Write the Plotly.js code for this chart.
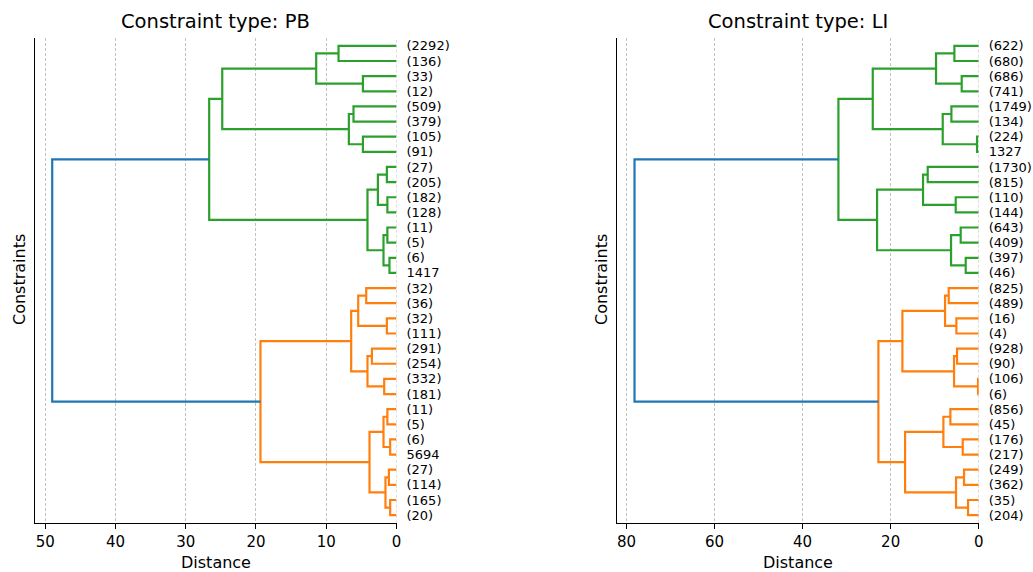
<!DOCTYPE html>
<html>
<head>
<meta charset="utf-8">
<script src="https://cdn.plot.ly/plotly-3.0.1.min.js"></script>
<style>html,body{margin:0;padding:0;background:#fff;}#chart{width:1033px;height:572px;}</style>
</head>
<body>
<div id="chart"></div>
<script>
// ---------- DATA ----------
// Leaf labels, top to bottom
const pbLabels = ["(2292)","(136)","(33)","(12)","(509)","(379)","(105)","(91)",
  "(27)","(205)","(182)","(128)","(11)","(5)","(6)","1417",
  "(32)","(36)","(32)","(111)","(291)","(254)","(332)","(181)",
  "(11)","(5)","(6)","5694","(27)","(114)","(165)","(20)"];
// Merges: node ids 0..31 are leaves, merge k creates node 32+k
const pbLeft  = [0, 2, 32, 4, 6, 35, 34, 8, 10, 39, 12, 14, 42, 41, 38, 16, 18, 47, 20, 22, 50, 49, 24, 26, 54, 28, 30, 57, 56, 53, 46];
const pbRight = [1, 3, 33, 5, 7, 36, 37, 9, 11, 40, 13, 15, 43, 44, 45, 17, 19, 48, 21, 23, 51, 52, 25, 27, 55, 29, 31, 58, 59, 60, 61];
const pbDist  = [8.25, 4.78, 11.43, 6.12, 4.78, 6.78, 24.8, 1.37, 1.3, 2.65, 1.3, 1.0, 1.85, 4.13, 26.66,
                 4.31, 1.37, 5.45, 3.5, 1.75, 4.13, 6.45, 1.3, 0.9, 1.85, 1.08, 0.9, 1.57, 3.84, 19.36, 49.0];

const liLabels = ["(622)","(680)","(686)","(741)","(1749)","(134)","(224)","1327",
  "(1730)","(815)","(110)","(144)","(643)","(409)","(397)","(46)",
  "(825)","(489)","(16)","(4)","(928)","(90)","(106)","(6)",
  "(856)","(45)","(176)","(217)","(249)","(362)","(35)","(204)"];
const liLeft  = [0, 2, 32, 4, 6, 35, 34, 8, 10, 39, 12, 14, 42, 41, 38, 16, 18, 47, 20, 22, 50, 49, 24, 26, 54, 28, 30, 57, 56, 53, 46];
const liRight = [1, 3, 33, 5, 7, 36, 37, 9, 11, 40, 13, 15, 43, 44, 45, 17, 19, 48, 21, 23, 51, 52, 25, 27, 55, 29, 31, 58, 59, 60, 61];
const liDist  = [5.52, 3.86, 9.69, 6.2, 0.38, 8.17, 24.06, 11.58, 5.22, 12.64, 4.09, 2.95, 6.28, 23.08, 31.86,
                 6.81, 5.07, 7.64, 4.92, 0.15, 5.6, 17.33, 6.43, 3.63, 8.02, 3.33, 2.42, 5.15, 16.72, 22.78, 78.17];

const titles = ["Constraint type: PB", "Constraint type: LI"];
const xTitle = "Distance";
const yTitle = "Constraints";

// ---------- BUILD ----------
const ABOVE = "#1f77b4";
const PALETTE = ["#ff7f0e", "#2ca02c", "#d62728", "#9467bd"];

function build(labels, A, B, D, xa, ya) {
  const n = labels.length;
  const pos = {}, h = {}, parent = {};
  labels.forEach((l, i) => { pos[i] = 10 * (n - 1 - i) + 5; h[i] = 0; });
  A.forEach((a, k) => {
    const id = n + k;
    pos[id] = (pos[a] + pos[B[k]]) / 2;
    h[id] = D[k];
    parent[a] = id; parent[B[k]] = id;
  });
  const thr = 0.7 * Math.max(...D);
  const roots = [];
  A.forEach((a, k) => {
    const id = n + k;
    if (D[k] <= thr && (parent[id] === undefined || h[parent[id]] > thr)) roots.push(id);
  });
  roots.sort((p, q) => pos[p] - pos[q]);
  const rootColor = {};
  roots.forEach((r, i) => rootColor[r] = PALETTE[i % PALETTE.length]);
  function colorOf(id) {
    if (h[id] > thr) return ABOVE;
    let c = id;
    while (rootColor[c] === undefined) c = parent[c];
    return rootColor[c];
  }
  const groups = {};
  A.forEach((a, k) => {
    const id = n + k, b = B[k];
    const col = colorOf(id);
    if (!groups[col]) groups[col] = {x: [], y: []};
    const g = groups[col];
    g.x.push(h[a], h[id], h[id], h[b], null);
    g.y.push(pos[a], pos[a], pos[b], pos[b], null);
  });
  const traces = Object.keys(groups).map(col => ({
    type: "scatter", mode: "lines", x: groups[col].x, y: groups[col].y,
    xaxis: xa, yaxis: ya, line: {color: col, width: 2.2}, hoverinfo: "skip", showlegend: false,
    connectgaps: false
  }));
  const tickvals = labels.map((l, i) => pos[i]);
  return {traces, tickvals, max: Math.max(...D), n};
}

const p1 = build(pbLabels, pbLeft, pbRight, pbDist, "x", "y");
const p2 = build(liLabels, liLeft, liRight, liDist, "x2", "y3");

const anchor1 = {type: "scatter", mode: "markers", x: [0], y: [5], xaxis: "x", yaxis: "y2", marker: {opacity: 0}, hoverinfo: "skip", showlegend: false};
const anchor2 = {type: "scatter", mode: "markers", x: [0], y: [5], xaxis: "x2", yaxis: "y4", marker: {opacity: 0}, hoverinfo: "skip", showlegend: false};

const W = 1033, H = 572;
const d1 = [35 / W, 396.5 / W];
const d2 = [617.3 / W, 978.7 / W];
const dy = [1 - 522.7 / H, 1 - 38.3 / H];
const FONT = "DejaVu Sans, Liberation Sans, sans-serif";
const GRID = {color: "#b0b0b0", width: 0.8, dash: "3px,2px"};

function xAxis(domain, maxv, dtick, anchor) {
  return {
    domain: domain, range: [maxv * 1.05, 0], anchor: anchor,
    dtick: dtick, tick0: 0, ticks: "outside", ticklen: 5, tickwidth: 1, tickcolor: "#000",
    showline: true, linecolor: "#000", linewidth: 1.2, mirror: false,
    showgrid: true, gridcolor: GRID.color, griddash: GRID.dash, gridwidth: GRID.width,
    zeroline: false, tickfont: {family: FONT, size: 15, color: "#000"}, fixedrange: true
  };
}
function yAxisLine(anchor, n) {
  return {
    domain: dy, range: [0, 10 * n], anchor: anchor, side: "left",
    showline: true, linecolor: "#000", linewidth: 1.2, showticklabels: false, ticks: "",
    showgrid: false, zeroline: false, fixedrange: true
  };
}
function yAxisLabels(overlay, anchor, n, tickvals, labels) {
  return {
    domain: dy, range: [0, 10 * n], anchor: anchor, overlaying: overlay, side: "right",
    tickmode: "array", tickvals: tickvals, ticktext: labels, ticks: "", ticklabelstandoff: 9,
    showline: false, showgrid: false, zeroline: false,
    tickfont: {family: FONT, size: 13, color: "#000"}, fixedrange: true
  };
}

function ann(text, x, y, size, angle) {
  return {text: text, x: x, y: y, xref: "paper", yref: "paper", showarrow: false, textangle: angle || 0,
    xanchor: "center", yanchor: "middle", borderpad: 0, font: {family: FONT, size: size, color: "#000"}};
}

const layout = {
  width: W, height: H,
  margin: {l: 0, r: 0, t: 0, b: 0},
  paper_bgcolor: "#fff", plot_bgcolor: "#fff",
  showlegend: false,
  xaxis: xAxis(d1, p1.max, 10, "y"),
  yaxis: yAxisLine("x", p1.n),
  yaxis2: yAxisLabels("y", "x", p1.n, p1.tickvals, pbLabels),
  xaxis2: xAxis(d2, p2.max, 20, "y3"),
  yaxis3: yAxisLine("x2", p2.n),
  yaxis4: yAxisLabels("y3", "x2", p2.n, p2.tickvals, liLabels),
  shapes: [
    {type: "line", xref: "x", yref: "paper", x0: 0, x1: 0, y0: dy[0], y1: dy[1], layer: "below",
     line: {color: GRID.color, width: GRID.width, dash: GRID.dash}},
    {type: "line", xref: "x2", yref: "paper", x0: 0, x1: 0, y0: dy[0], y1: dy[1], layer: "below",
     line: {color: GRID.color, width: GRID.width, dash: GRID.dash}}
  ],
  annotations: [
    ann(titles[0], (d1[0] + d1[1]) / 2, 1 - 22 / H, 19.5),
    ann(titles[1], (d2[0] + d2[1]) / 2, 1 - 22 / H, 19.5),
    ann(xTitle, (d1[0] + d1[1]) / 2, 1 - 562 / H, 16),
    ann(xTitle, (d2[0] + d2[1]) / 2, 1 - 562 / H, 16),
    ann(yTitle, 19 / W, 1 - 280 / H, 16, -90),
    ann(yTitle, 601 / W, 1 - 280 / H, 16, -90)
  ]
};

Plotly.newPlot("chart", [...p1.traces, ...p2.traces, anchor1, anchor2], layout, {staticPlot: true, displayModeBar: false});
</script>
</body>
</html>
